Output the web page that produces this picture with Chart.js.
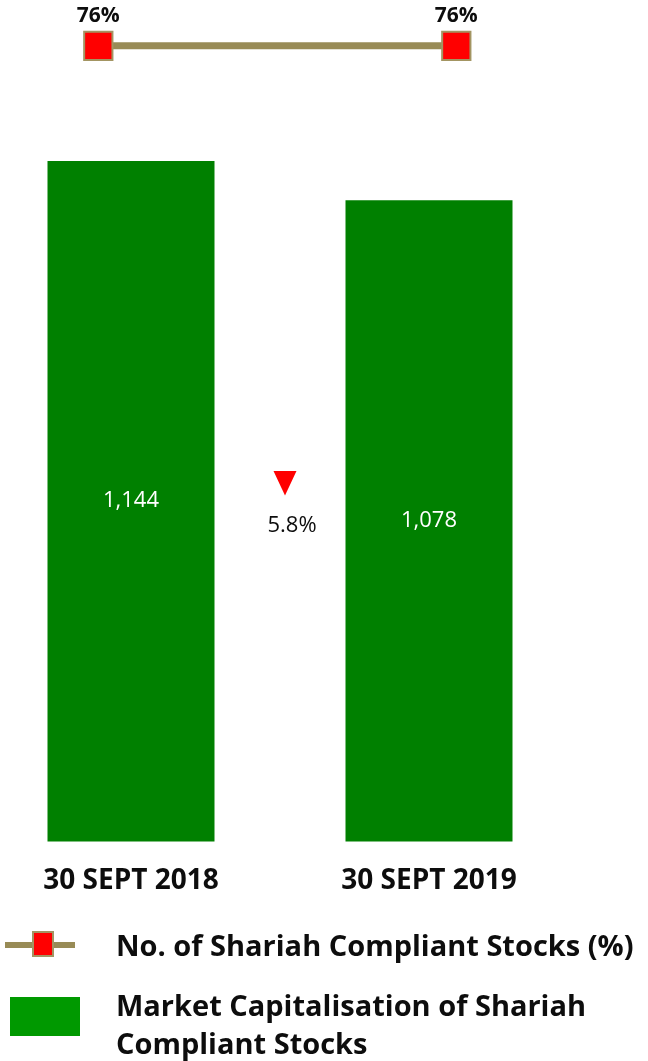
<!DOCTYPE html>
<html>
<head>
<meta charset="utf-8">
<script src="https://cdn.jsdelivr.net/npm/chart.js@4.4.1/dist/chart.umd.min.js"></script>
<style>
  html, body { margin: 0; padding: 0; background: #ffffff; }
  #wrap { position: relative; width: 648px; height: 1061px; overflow: hidden; }
  #chart { position: absolute; left: 0; top: 0; }
  .legend-text {
    position: absolute; left: 116px;
    font-family: "Open Sans", sans-serif; font-weight: 700; font-size: 29px;
    line-height: 38px; color: #0d0d0d; white-space: nowrap;
  }
  .lg-line { position: absolute; left: 5px; top: 942px; width: 70px; height: 6px; background: #988b56; }
  .lg-mark { position: absolute; left: 32px; top: 931px; width: 18px; height: 22px; background: #ff0000; border: 2px solid #a39562; }
  .lg-box  { position: absolute; left: 10px; top: 997px; width: 70px; height: 39px; background: #009900; }
</style>
</head>
<body>
<div id="wrap">
  <canvas id="chart" width="648" height="1061"></canvas>
  <div class="lg-line"></div>
  <div class="lg-mark"></div>
  <div class="legend-text" id="lg1" style="top:926px;"></div>
  <div class="lg-box"></div>
  <div class="legend-text" id="lg2" style="top:986px;"></div>
</div>
<script>
// Period labels along the bottom axis
const categories = ['30 SEPT 2018', '30 SEPT 2019'];
// Market capitalisation of Shariah-compliant stocks (RM billion)
const marketCap = [1144, 1078];
// Shariah-compliant stocks as a share of listed stocks (%)
const shariahShare = [76, 76];
// Series names
const seriesNames = ['No. of Shariah Compliant Stocks (%)', 'Market Capitalisation of Shariah Compliant Stocks'];

const FONT = '"Open Sans", sans-serif';
const GREEN = '#008000';
const OLIVE = '#988b56';

// Writes values into the bars, percentages over the markers and the year-on-year change
const annotate = {
  id: 'annotate',
  afterDatasetsDraw(chart) {
    const ctx = chart.ctx;
    const lineMeta = chart.getDatasetMeta(0);
    const barMeta = chart.getDatasetMeta(1);
    ctx.save();
    ctx.textAlign = 'center';
    ctx.textBaseline = 'middle';

    // values inside the bars
    ctx.fillStyle = '#ffffff';
    ctx.font = '22px ' + FONT;
    barMeta.data.forEach((el, i) => {
      ctx.fillText(marketCap[i].toLocaleString('en-US'), el.x, (el.y + el.base) / 2);
    });

    // share labels above the markers
    ctx.fillStyle = '#0d0d0d';
    ctx.font = '700 21px ' + FONT;
    lineMeta.data.forEach((pt, i) => {
      ctx.fillText(shariahShare[i] + '%', pt.x, pt.y - 30);
    });

    // change between the two periods, with a direction arrow
    const a = barMeta.data[0], b = barMeta.data[1];
    const change = (marketCap[1] - marketCap[0]) / marketCap[0] * 100;
    const yScale = chart.scales.y;
    const midX = (a.x + b.x) / 2;
    const midY = yScale.getPixelForValue((marketCap[0] + marketCap[1]) / 4);
    const tx = midX + 5, ty = midY - 28;
    ctx.fillStyle = change < 0 ? '#ff0000' : '#00a000';
    ctx.beginPath();
    if (change < 0) {
      ctx.moveTo(tx - 11.5, ty - 12);
      ctx.lineTo(tx + 11.5, ty - 12);
      ctx.lineTo(tx, ty + 12.5);
    } else {
      ctx.moveTo(tx - 11.5, ty + 12);
      ctx.lineTo(tx + 11.5, ty + 12);
      ctx.lineTo(tx, ty - 12.5);
    }
    ctx.closePath();
    ctx.fill();
    ctx.fillStyle = '#0d0d0d';
    ctx.font = '22px ' + FONT;
    ctx.fillText(Math.abs(change).toFixed(1) + '%', midX + 12, midY + 15);
    ctx.restore();
  }
};

new Chart(document.getElementById('chart'), {
  type: 'bar',
  data: {
    datasets: [
      {
        type: 'line',
        label: seriesNames[0],
        data: shariahShare.map((v, i) => ({ x: i, y: v })),
        xAxisID: 'x2',
        yAxisID: 'y2',
        borderColor: OLIVE,
        borderWidth: 7,
        pointStyle: 'rect',
        pointRadius: 20,
        pointHoverRadius: 20,
        pointBackgroundColor: '#ff0000',
        pointBorderColor: '#a39562',
        pointBorderWidth: 2,
        tension: 0,
        clip: false
      },
      {
        type: 'bar',
        label: seriesNames[1],
        data: marketCap.map((v, i) => ({ x: i, y: v })),
        xAxisID: 'x',
        yAxisID: 'y',
        backgroundColor: GREEN,
        borderWidth: 0,
        grouped: false,
        maxBarThickness: 167,
        clip: false
      }
    ]
  },
  options: {
    responsive: false,
    animation: false,
    layout: { autoPadding: false, padding: { left: 0, right: 0, top: 4, bottom: 140 } },
    plugins: { legend: { display: false }, tooltip: { enabled: false } },
    scales: {
      x: {
        type: 'linear',
        offset: false,
        min: -0.4396,
        max: 1.7349,
        afterBuildTicks: (scale) => { scale.ticks = categories.map((c, i) => ({ value: i })); },
        grid: { display: false, drawTicks: false, offset: false },
        border: { display: false },
        ticks: {
          autoSkip: false,
          maxRotation: 0,
          padding: 23,
          color: '#0d0d0d',
          font: { family: FONT, weight: '700', size: 28 },
          callback: (v) => categories[v]
        }
      },
      x2: {
        type: 'linear',
        display: false,
        offset: false,
        grid: { offset: false },
        min: -0.2746,
        max: 1.5355
      },
      y: { display: false, min: 0, max: 1408 },
      y2: { display: false, min: 0, max: 80 }
    }
  },
  plugins: [annotate]
});

document.getElementById('lg1').textContent = seriesNames[0];
document.getElementById('lg2').innerHTML = 'Market Capitalisation of Shariah<br>Compliant Stocks';
</script>
</body>
</html>
